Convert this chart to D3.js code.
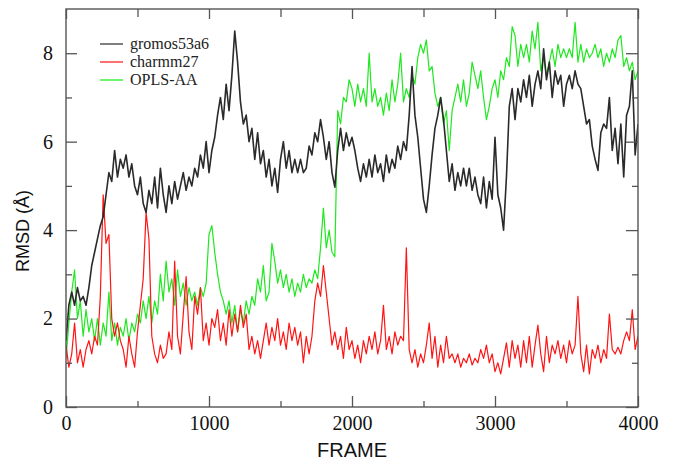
<!DOCTYPE html>
<html>
<head>
<meta charset="utf-8">
<script src="https://cdn.jsdelivr.net/npm/d3@7"></script>
<style>
  html, body { margin: 0; padding: 0; background: #fff; }
  svg { display: block; }
</style>
</head>
<body>
<svg id="chart" width="679" height="463"></svg>
<script>
// ---------------- data ----------------
const frameStep = 20;          // frames between samples
const xTickMajor = [0, 1000, 2000, 3000, 4000];
const xTickMinor = [500, 1500, 2500, 3500];
const yTickMajor = [0, 2, 4, 6, 8];
const yTickMinor = [1, 3, 5, 7];
const seriesNames = ["gromos53a6", "charmm27", "OPLS-AA"];

const gromos = [
  1.5, 2.3, 2.6, 2.3, 2.7, 2.4, 2.5, 2.3, 2.7, 3.2,
  3.5, 3.8, 4.1, 4.3, 4.8, 5.3, 5.1, 5.8, 5.2, 5.6,
  5.4, 5.7, 5.2, 5.5, 5.0, 4.8, 5.2, 4.6, 4.4, 4.9,
  4.6, 5.2, 4.5, 5.4, 4.8, 4.4, 5.0, 4.6, 5.1, 4.7,
  5.0, 5.3, 4.9, 5.2, 5.0, 5.4, 5.2, 5.7, 5.4, 6.0,
  5.3, 5.8, 6.1, 6.6, 7.0, 6.5, 7.3, 6.7, 7.5, 8.5,
  7.8, 6.9, 6.4, 6.6, 6.0, 6.3, 5.6, 6.2, 5.5, 5.8,
  5.2, 5.6, 5.0, 5.4, 4.85, 5.6, 6.0, 5.4, 5.8, 5.3,
  5.6, 5.3, 5.6, 5.3, 5.4, 5.9, 5.7, 6.2, 6.0, 6.5,
  6.1, 5.6, 6.0, 5.3, 4.97, 5.8, 6.3, 5.8, 6.2, 5.9,
  6.1, 5.8, 5.4, 5.1, 5.5, 5.2, 5.6, 5.2, 5.7, 5.3,
  5.5, 5.1, 5.7, 5.3, 5.6, 5.4, 5.9, 5.6, 6.0, 5.8,
  6.6, 7.7, 6.6, 6.1, 5.4, 4.7, 4.4, 5.0, 5.7, 6.3,
  6.6, 7.0, 6.5, 5.8, 5.1, 5.5, 4.9, 5.3, 5.0, 5.4,
  5.0, 5.4, 4.9, 5.2, 4.8, 4.6, 5.2, 4.5, 5.1, 4.7,
  6.1, 4.8, 4.5, 4.0, 5.2, 6.8, 7.2, 6.5, 7.2, 6.9,
  7.4, 7.0, 7.5, 6.8, 7.3, 7.6, 7.2, 8.1, 7.4, 7.8,
  7.0, 7.6, 7.3, 7.5, 6.8, 7.3, 7.5, 7.2, 7.6, 7.3,
  7.2, 6.8, 6.4, 6.5, 5.9, 5.6, 5.35, 6.2, 6.4, 6.3,
  7.0, 5.8, 6.3, 5.5, 6.4, 5.2, 6.6, 6.8, 7.6, 5.7,
  6.4
];

const charmm = [
  1.4, 0.9, 1.2, 1.9, 1.0, 1.3, 0.9, 1.3, 1.5, 1.2,
  1.6, 1.4, 2.5, 4.8, 3.7, 3.9, 2.0, 1.6, 1.9, 1.5,
  1.3, 0.9, 1.6, 1.2, 0.9, 1.7, 2.3, 2.9, 4.4, 3.8,
  1.6, 1.2, 1.0, 1.4, 1.1, 1.2, 1.7, 1.3, 3.3, 1.6,
  1.2, 2.1, 2.95, 1.7, 1.3, 2.5, 2.1, 2.7, 1.5, 1.9,
  1.4, 2.0, 1.8, 2.2, 1.5, 1.9, 1.4, 2.2, 1.6, 2.1,
  1.7, 2.3, 1.8, 2.1, 1.3, 1.6, 1.2, 1.5, 1.1, 1.5,
  1.9, 1.4, 1.8, 1.5, 2.0, 1.4, 1.7, 1.3, 1.9, 1.5,
  1.8, 1.4, 1.7, 1.0, 1.6, 1.2, 1.6, 2.4, 2.8, 2.5,
  3.2, 2.6, 2.0, 1.4, 1.7, 1.3, 1.6, 1.1, 1.8, 1.3,
  1.5, 1.1, 1.4, 1.0, 1.5, 1.2, 1.6, 1.3, 1.7, 1.2,
  1.5, 2.3, 1.3, 1.6, 1.2, 1.7, 1.4, 1.6, 1.5, 3.6,
  1.3, 1.0, 1.3, 0.9, 1.2, 1.0, 1.4, 1.9, 1.1, 1.6,
  0.9, 1.4, 1.0, 1.6, 1.1, 1.2, 1.0, 1.2, 0.9, 1.1,
  1.0, 1.2, 0.95, 1.1, 1.0, 1.3, 1.1, 1.4, 1.0, 1.2,
  0.8, 1.0, 0.75, 1.1, 1.45, 0.9, 1.5, 1.1, 1.4, 0.9,
  1.5, 1.0, 1.6, 0.9, 1.4, 1.85, 1.2, 0.8, 1.6, 1.0,
  1.4, 1.2, 1.5, 1.1, 1.4, 1.0, 1.5, 1.2, 1.4, 2.5,
  1.2, 0.8, 1.4, 0.75, 1.3, 1.1, 1.4, 1.0, 1.3, 1.1,
  2.1, 1.3, 1.2, 1.35, 1.2, 1.5, 1.7, 1.5, 2.2, 1.3,
  1.6
];

const opls = [
  1.1, 1.9, 2.6, 3.1, 2.0, 2.4, 1.6, 2.2, 1.7, 2.0,
  1.5, 2.0, 1.4, 1.9, 1.6, 2.6, 1.5, 1.9, 1.4, 1.8,
  1.6, 2.0, 1.5, 1.9, 1.7, 2.1, 1.9, 2.4, 2.0, 2.5,
  1.9, 2.4, 2.1, 3.0, 2.4, 3.3, 2.6, 2.9, 2.3, 3.1,
  2.5, 2.8, 2.3, 2.7, 2.4, 2.6, 2.3, 2.7, 2.5, 2.8,
  3.9, 4.1, 3.5, 3.0, 2.6, 2.4, 2.1, 2.4, 1.9, 2.3,
  1.7, 2.2, 1.9, 2.4, 2.1, 2.5, 2.3, 2.9, 2.6, 3.2,
  2.4, 2.6, 3.7, 3.3, 2.8, 3.1, 2.7, 3.0, 2.6, 2.9,
  2.5, 2.8, 2.6, 3.0, 2.7, 2.9, 2.8, 3.1, 2.9, 3.6,
  4.5, 3.6, 4.0, 3.5, 3.4, 6.7, 6.4, 7.0, 6.9, 7.4,
  7.2, 6.8, 7.3, 6.9, 7.2, 6.8, 8.0, 6.9, 7.2, 6.8,
  7.0, 6.6, 7.1, 6.7, 7.4, 6.9, 7.3, 8.0, 6.9, 7.2,
  7.0, 7.5, 7.3, 7.9, 8.2, 8.0, 8.3, 7.6, 7.7, 7.1,
  6.8, 7.0, 6.4, 6.7, 5.8, 6.7, 7.0, 7.3, 6.9, 7.4,
  6.8, 7.1, 7.8, 7.5, 7.2, 7.6, 7.0, 6.5, 6.8, 7.2,
  7.4, 7.0, 7.6, 7.4, 7.9, 7.7, 8.6, 8.4, 7.7, 8.2,
  7.9, 8.2, 7.8, 8.5, 8.1, 8.7, 7.6, 7.9, 7.5, 7.8,
  8.1, 7.7, 8.2, 7.9, 8.1, 7.9, 8.1, 7.9, 8.7, 7.8,
  8.2, 7.8, 8.1, 7.9, 8.0, 8.2, 7.9, 8.1, 7.7, 8.0,
  7.8, 8.1, 7.9, 8.3, 8.4, 7.7, 7.9, 7.6, 7.8, 7.4,
  7.6
];

// ---------------- layout ----------------
const plot = { left: 66, right: 638, top: 9, bottom: 407 };
const svg = d3.select("#chart");

const x = d3.scaleLinear().domain([0, 4000]).range([plot.left, plot.right]);
const y = d3.scaleLinear().domain([0, 9]).range([plot.bottom, plot.top]);

const toPts = arr => arr.map((v, i) => [i * frameStep, v]);
const line = d3.line().x(d => x(d[0])).y(d => y(d[1]));

svg.append("clipPath").attr("id", "clip")
  .append("rect").attr("x", plot.left).attr("y", plot.top)
  .attr("width", plot.right - plot.left).attr("height", plot.bottom - plot.top);

const g = svg.append("g").attr("clip-path", "url(#clip)");
const series = [
  { name: seriesNames[2], data: opls,   color: "#1ee81e", width: 1.2 },
  { name: seriesNames[1], data: charmm, color: "#ff1414", width: 1.2 },
  { name: seriesNames[0], data: gromos, color: "#2a2a2a", width: 1.6 }
];
series.forEach(s => {
  g.append("path").datum(toPts(s.data))
    .attr("fill", "none").attr("stroke", s.color)
    .attr("stroke-width", s.width).attr("stroke-linejoin", "round")
    .attr("d", line);
});

// ---------------- axes ----------------
const axisColor = "#555";
const serif = "'Liberation Serif', 'Times New Roman', serif";
function styleAxis(sel) {
  sel.select(".domain").remove();
  sel.selectAll(".tick line").attr("stroke", axisColor).attr("stroke-width", 1.3);
  sel.selectAll(".tick text").attr("fill", "#111")
    .style("font-family", serif).style("font-size", "20px");
}

// bottom
svg.append("g").attr("transform", `translate(0,${plot.bottom})`)
  .call(d3.axisBottom(x).tickValues(xTickMajor).tickSize(-11).tickPadding(9).tickFormat(d3.format("d")))
  .call(styleAxis);
svg.append("g").attr("transform", `translate(0,${plot.bottom})`)
  .call(d3.axisBottom(x).tickValues(xTickMinor).tickSize(-6).tickFormat(""))
  .call(styleAxis);
// top
svg.append("g").attr("transform", `translate(0,${plot.top})`)
  .call(d3.axisTop(x).tickValues(xTickMajor).tickSize(-10).tickFormat(""))
  .call(styleAxis);
svg.append("g").attr("transform", `translate(0,${plot.top})`)
  .call(d3.axisTop(x).tickValues(xTickMinor).tickSize(-8).tickFormat(""))
  .call(styleAxis);
// left
svg.append("g").attr("transform", `translate(${plot.left},0)`)
  .call(d3.axisLeft(y).tickValues(yTickMajor).tickSize(-11).tickPadding(13).tickFormat(d3.format("d")))
  .call(styleAxis);
svg.append("g").attr("transform", `translate(${plot.left},0)`)
  .call(d3.axisLeft(y).tickValues(yTickMinor).tickSize(-6).tickFormat(""))
  .call(styleAxis);
// right
svg.append("g").attr("transform", `translate(${plot.right},0)`)
  .call(d3.axisRight(y).tickValues(yTickMajor).tickSize(-12).tickFormat(""))
  .call(styleAxis);
svg.append("g").attr("transform", `translate(${plot.right},0)`)
  .call(d3.axisRight(y).tickValues(yTickMinor).tickSize(-6).tickFormat(""))
  .call(styleAxis);

// frame
svg.append("rect").attr("x", plot.left).attr("y", plot.top)
  .attr("width", plot.right - plot.left).attr("height", plot.bottom - plot.top)
  .attr("fill", "none").attr("stroke", axisColor).attr("stroke-width", 1.4);

// axis titles
const sans = "'Liberation Sans', Arial, sans-serif";
svg.append("text").attr("x", (plot.left + plot.right) / 2).attr("y", 457)
  .attr("text-anchor", "middle").attr("fill", "#111")
  .style("font-family", sans).style("font-size", "20px").text("FRAME");
svg.append("text").attr("transform", "translate(29,231) rotate(-90)")
  .attr("text-anchor", "middle").attr("fill", "#111")
  .style("font-family", sans).style("font-size", "18px").text("RMSD (Å)");

// legend
const legend = [
  { name: seriesNames[0], color: "#555" },
  { name: seriesNames[1], color: "#ff4040" },
  { name: seriesNames[2], color: "#3ef03e" }
];
const lg = svg.append("g");
legend.forEach((d, i) => {
  const by = 49 + i * 18;
  lg.append("line").attr("x1", 100).attr("x2", 123).attr("y1", by - 5).attr("y2", by - 5)
    .attr("stroke", d.color).attr("stroke-width", 1.5);
  lg.append("text").attr("x", 130).attr("y", by).attr("fill", "#222")
    .style("font-family", serif).style("font-size", "16px").text(d.name);
});
</script>
</body>
</html>
